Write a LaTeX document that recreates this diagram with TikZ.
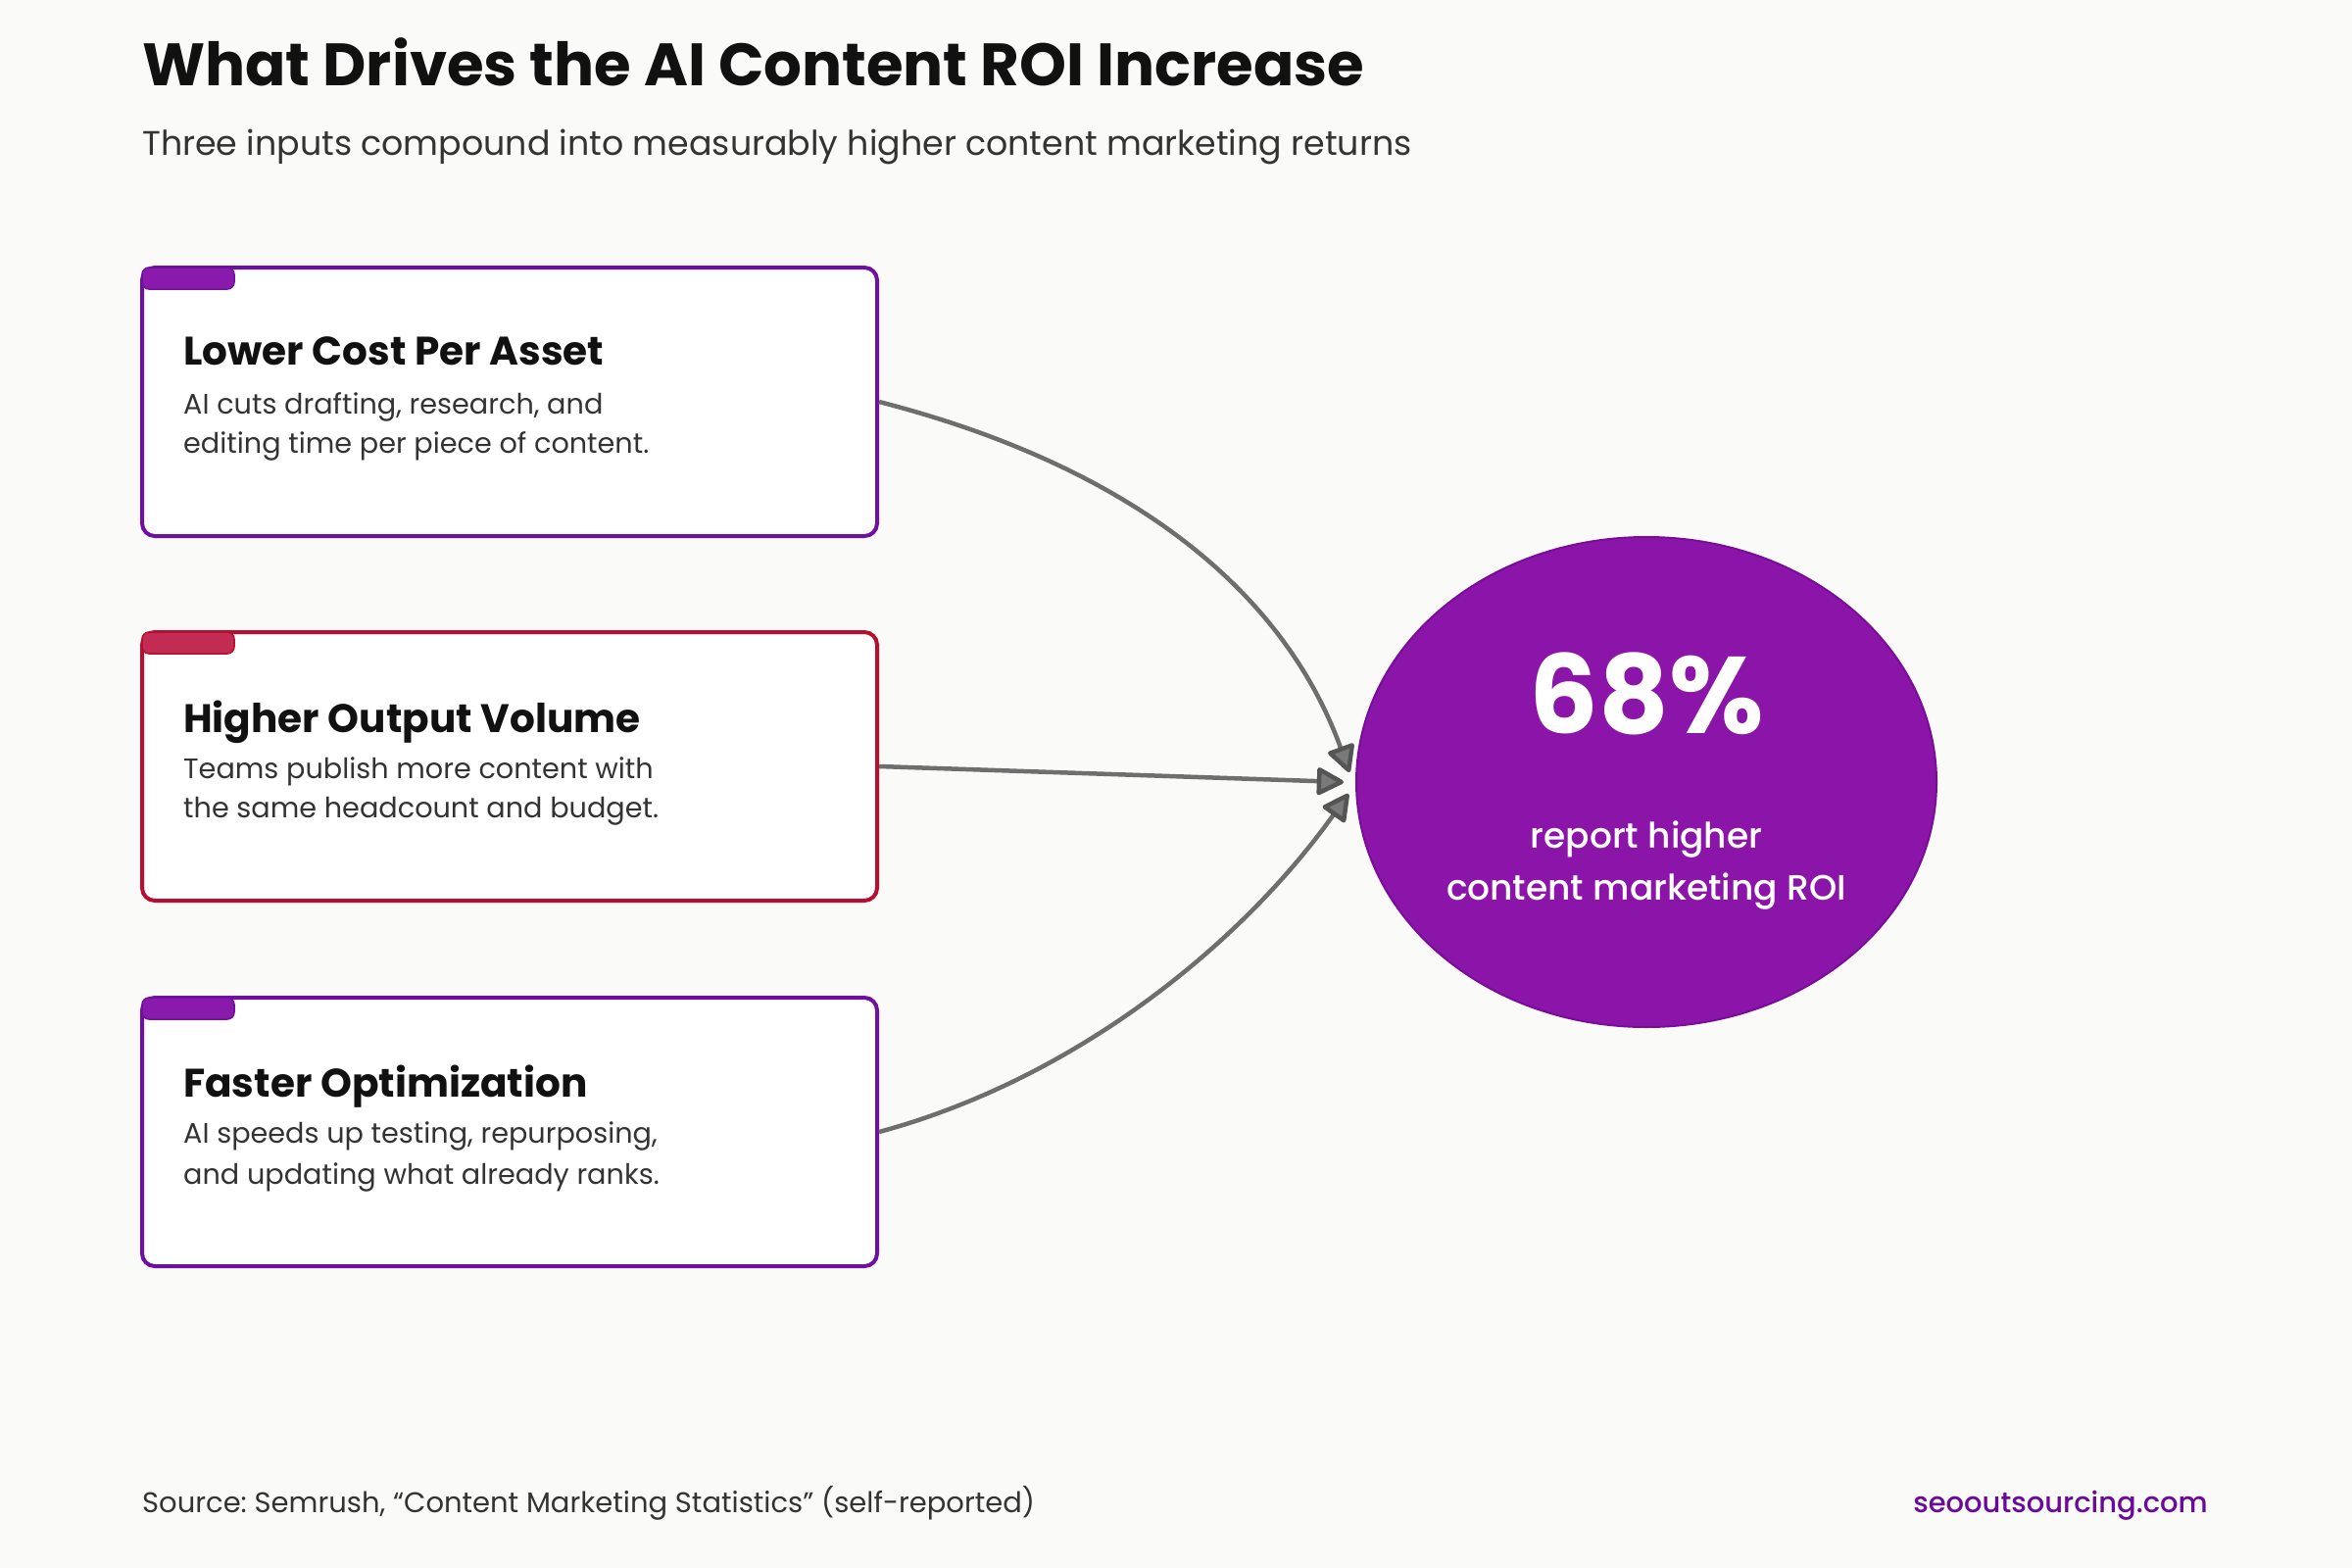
\documentclass[tikz,border=0pt]{standalone}
\usepackage{fontspec}
\setmainfont{Poppins}
\newfontfamily\pmed{Poppins Medium}
\usetikzlibrary{arrows.meta,shapes.geometric}
\definecolor{bgc}{HTML}{FAFAF8}
\definecolor{cpur}{HTML}{7010A0}
\definecolor{cpurtab}{HTML}{8A1AAC}
\definecolor{cred}{HTML}{B80F30}
\definecolor{credtab}{HTML}{C22B52}
\definecolor{roifill}{HTML}{8B15A8}
\definecolor{roiedge}{HTML}{7A0C9A}
\definecolor{conn}{HTML}{6E6E6E}
\definecolor{tipfill}{HTML}{7A7A7A}
\definecolor{tipedge}{HTML}{555555}
\definecolor{ink}{HTML}{111111}
\definecolor{bodyc}{HTML}{333333}
\definecolor{site}{HTML}{6B0A9A}
\frenchspacing
\begin{document}
\frenchspacing
\begin{tikzpicture}[x=1pt,y=-1pt,
 card/.style={draw, fill=white, line width=4pt, rounded corners=13pt, minimum width=750pt, minimum height=274pt, inner sep=0pt},
 tabbar/.style={line width=1.5pt, rounded corners=7pt},
 txt/.style={inner sep=0pt, anchor=base west},
 head/.style={txt, text=ink, font=\fontsize{40.6}{48}\selectfont\bfseries},
 desc/.style={txt, text=bodyc, font=\fontsize{28.7}{36}\selectfont},
 link/.style={draw=conn, line width=4.5pt, -{Triangle[length=30pt,width=30pt,round,fill=tipfill,color=tipedge]}},
]
\fill[bgc] (0,0) rectangle (2400,1600);
\useasboundingbox (0,0) rectangle (2400,1600);

\node[txt, text=ink, font=\fontsize{61}{70}\selectfont\bfseries] (title) at (145,88) {What Drives the AI Content ROI Increase};
\node[txt, text=bodyc, font=\fontsize{34.8}{42}\selectfont] (subtitle) at (145,158) {Three inputs compound into measurably higher content marketing returns};

% cards
\node[card, draw=cpur] (b1) at (520,410) {};
\node[card, draw=cred] (b2) at (520,782) {};
\node[card, draw=cpur] (b3) at (520,1155) {};
\filldraw[tabbar, fill=cpurtab, draw=cpur] (145,273) rectangle (239,295);
\filldraw[tabbar, fill=credtab, draw=cred] (145,645) rectangle (239,667);
\filldraw[tabbar, fill=cpurtab, draw=cpur] (145,1018) rectangle (239,1040);

\node[head] (h1) at (187,372) {Lower Cost Per Asset};
\node[desc] (d1a) at (187,422) {AI cuts drafting, research, and};
\node[desc] (d1b) at (187,462) {editing time per piece of content.};

\node[head] (h2) at (187,747) {Higher Output Volume};
\node[desc] (d2a) at (187,794) {Teams publish more content with};
\node[desc] (d2b) at (187,834) {the same headcount and budget.};

\node[head] (h3) at (187,1119) {Faster Optimization};
\node[desc] (d3a) at (187,1166) {AI speeds up testing, repurposing,};
\node[desc] (d3b) at (187,1208) {and updating what already ranks.};

% result
\node[ellipse, fill=roifill, draw=roiedge, line width=2pt, minimum width=592pt, minimum height=500pt, inner sep=0pt] (roi) at (1680,798) {};
\node[anchor=base, inner sep=0pt, text=white, font=\fontsize{111}{125}\selectfont\bfseries] (pct) at (1680,748) {68\%};
\node[anchor=base, inner sep=0pt, text=white, font=\pmed\fontsize{36}{42}\selectfont] (r1) at (1680,865) {report higher};
\node[anchor=base, inner sep=0pt, text=white, font=\pmed\fontsize{36}{42}\selectfont] (r2) at (1680,918) {content marketing ROI};

% connectors
\draw[link] (b1.east) .. controls +(253,65) and +(-68,-188) .. ([xshift=-6pt,yshift=10pt]roi.west);
\draw[link] (b2.east) -- ([xshift=-12pt]roi.west);
\draw[link] (b3.east) .. controls +(200,-54) and +(-110,154) .. ([xshift=-7pt,yshift=-12pt]roi.west);

% footer
\node[txt, text=bodyc, font=\fontsize{29}{34}\selectfont] (src) at (145,1543) {Source: Semrush, “Content Marketing Statistics” (self-reported)};
\node[inner sep=0pt, anchor=base east, text=site, font=\pmed\fontsize{29}{34}\selectfont] (site) at (2253,1543) {seooutsourcing.com};
\end{tikzpicture}
\end{document}
